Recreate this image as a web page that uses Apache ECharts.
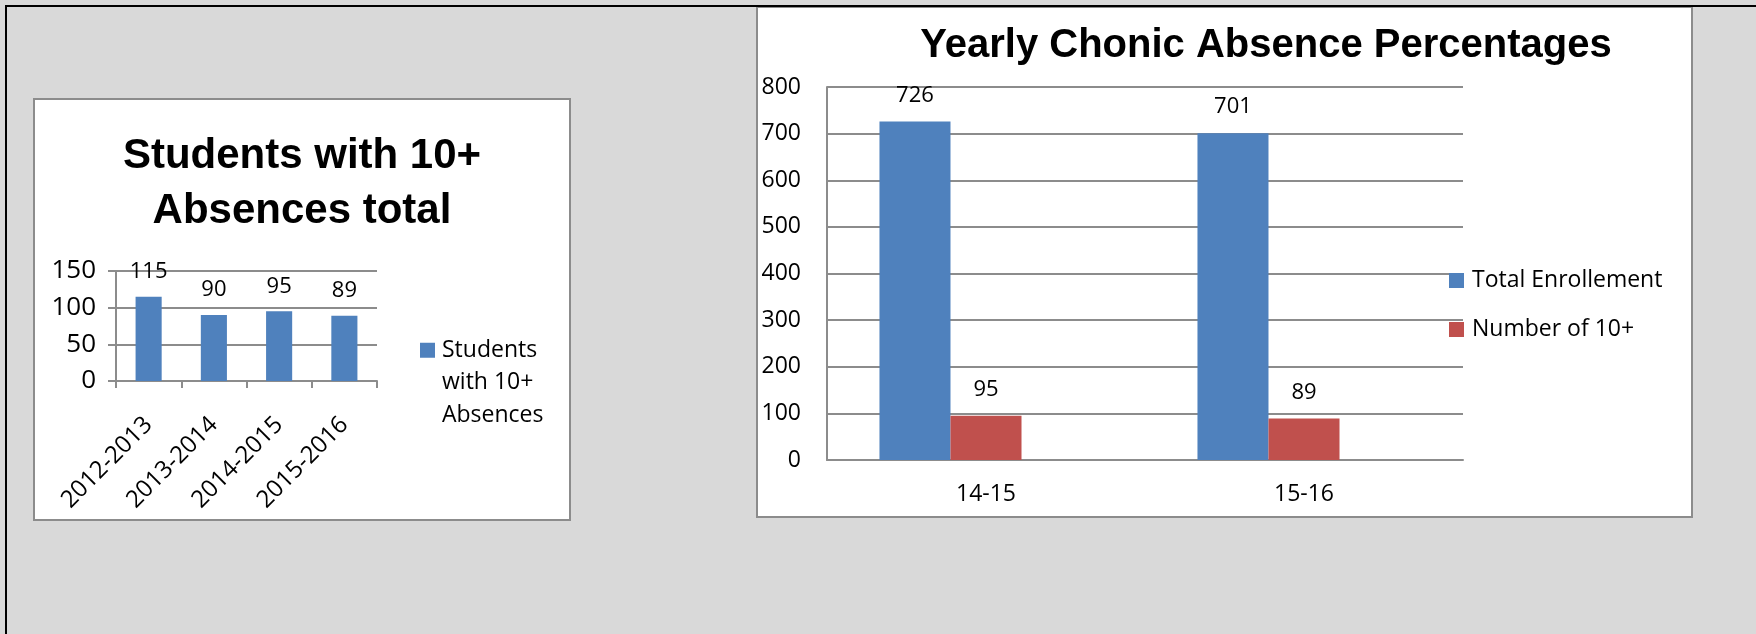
<!DOCTYPE html>
<html>
<head>
<meta charset="utf-8">
<script src="https://cdn.jsdelivr.net/npm/echarts@6/dist/echarts.min.js"></script>
<style>
  html, body { margin: 0; padding: 0; background: #d9d9d9; }
  #chart { width: 1756px; height: 634px; }
</style>
</head>
<body>
<div id="chart"></div>
<script>
// ---- Data (left chart) ----
const leftTitle = 'Students with 10+\nAbsences total';
const leftYears = ['2012-2013', '2013-2014', '2014-2015', '2015-2016'];
const leftSeriesName = 'Students with 10+ Absences';
const leftValues = [115, 90, 95, 89];
const leftYMin = 0, leftYMax = 150, leftYStep = 50;

// ---- Data (right chart) ----
const rightTitle = 'Yearly Chonic Absence Percentages';
const rightYears = ['14-15', '15-16'];
const totalEnrollment = [726, 701];
const numberOf10Plus = [95, 89];
const rightYMin = 0, rightYMax = 800, rightYStep = 100;

const FONT = "'Open Sans', 'Liberation Sans', sans-serif";
const TITLE_FONT = "'Liberation Sans', Arial, sans-serif";
const BLUE = '#4F81BD', RED = '#C0504D', GRID = '#8c8c8c';

const chart = echarts.init(document.getElementById('chart'), null, { renderer: 'canvas' });

const option = {
  backgroundColor: '#d9d9d9',
  animation: false,
  graphic: [
    { type: 'rect', z: -10, shape: { x: 34, y: 99, width: 536, height: 421 },
      style: { fill: '#ffffff', stroke: GRID, lineWidth: 2 } },
    { type: 'rect', z: -10, shape: { x: 757, y: 7, width: 935, height: 510 },
      style: { fill: '#ffffff', stroke: GRID, lineWidth: 2 } },
    { type: 'line', z: 100, shape: { x1: 5, y1: 6, x2: 1756, y2: 6 },
      style: { stroke: '#000', lineWidth: 2 } },
    { type: 'line', z: 100, shape: { x1: 6, y1: 5, x2: 6, y2: 634 },
      style: { stroke: '#000', lineWidth: 2 } }
  ],
  title: [
    { text: leftTitle, left: 302, top: 184, textAlign: 'center', textVerticalAlign: 'middle', padding: 0,
      textStyle: { fontFamily: TITLE_FONT, fontWeight: 'bold', fontSize: 42, lineHeight: 55, color: '#000' } },
    { text: rightTitle, left: 1266, top: 46, textAlign: 'center', textVerticalAlign: 'middle', padding: 0,
      textStyle: { fontFamily: TITLE_FONT, fontWeight: 'bold', fontSize: 40, color: '#000' } }
  ],
  legend: [
    { data: [leftSeriesName], orient: 'vertical', left: 420, top: 269, padding: 0,
      icon: 'rect', itemWidth: 15, itemHeight: 15, selectedMode: false,
      formatter: () => '\n\nStudents\nwith 10+\nAbsences',
      textStyle: { fontFamily: FONT, fontSize: 23, lineHeight: 32.5, color: '#000', padding: [0, 0, 0, 2] } },
    { data: ['Total Enrollement', 'Number of 10+'], orient: 'vertical', left: 1449, top: 269, padding: 0,
      icon: 'rect', itemWidth: 15, itemHeight: 15, itemGap: 26, selectedMode: false,
      textStyle: { fontFamily: FONT, fontSize: 23, lineHeight: 15, color: '#000', padding: [0, 0, 0, 3] } }
  ],
  grid: [
    { left: 116, top: 271, width: 261, height: 110, containLabel: false, outerBoundsMode: 'none' },
    { left: 827, top: 87, width: 636, height: 373, containLabel: false, outerBoundsMode: 'none' }
  ],
  xAxis: [
    { type: 'category', gridIndex: 0, data: leftYears,
      axisLine: { show: true, lineStyle: { color: GRID, width: 2 } },
      axisTick: { show: true, length: 7, alignWithLabel: false, lineStyle: { color: GRID, width: 2 } },
      axisLabel: { rotate: 45, fontFamily: FONT, fontSize: 24, color: '#000', margin: 40, interval: 0 },
      splitLine: { show: false } },
    { type: 'category', gridIndex: 1, data: rightYears,
      axisLine: { show: true, lineStyle: { color: GRID, width: 2 } },
      axisTick: { show: false },
      axisLabel: { fontFamily: FONT, fontSize: 23, lineHeight: 23, color: '#000', margin: 23 },
      splitLine: { show: false } }
  ],
  yAxis: [
    { type: 'value', gridIndex: 0, min: leftYMin, max: leftYMax, interval: leftYStep,
      axisLine: { show: true, lineStyle: { color: GRID, width: 2 } },
      axisTick: { show: true, length: 8, lineStyle: { color: GRID, width: 2 } },
      axisLabel: { fontFamily: FONT, fontSize: 26, color: '#000', margin: 20 },
      splitLine: { show: true, lineStyle: { color: GRID, width: 2 } } },
    { type: 'value', gridIndex: 1, min: rightYMin, max: rightYMax, interval: rightYStep,
      axisLine: { show: true, lineStyle: { color: GRID, width: 2 } },
      axisTick: { show: false },
      axisLabel: { fontFamily: FONT, fontSize: 23, color: '#000', margin: 26 },
      splitLine: { show: true, lineStyle: { color: GRID, width: 2 } } }
  ],
  series: [
    { name: leftSeriesName, type: 'bar', xAxisIndex: 0, yAxisIndex: 0, data: leftValues,
      barCategoryGap: '60%', itemStyle: { color: BLUE },
      label: { show: true, position: 'top', distance: 14, fontFamily: FONT, fontSize: 22, lineHeight: 22, color: '#000' } },
    { name: 'Total Enrollement', type: 'bar', xAxisIndex: 1, yAxisIndex: 1, data: totalEnrollment,
      barGap: '0%', barCategoryGap: '33%', itemStyle: { color: BLUE },
      label: { show: true, position: 'top', distance: 15, fontFamily: FONT, fontSize: 22, lineHeight: 22, color: '#000' } },
    { name: 'Number of 10+', type: 'bar', xAxisIndex: 1, yAxisIndex: 1, data: numberOf10Plus,
      barGap: '0%', barCategoryGap: '33%', itemStyle: { color: RED },
      label: { show: true, position: 'top', distance: 15, fontFamily: FONT, fontSize: 22, lineHeight: 22, color: '#000' } },
    // empty third slot (the source chart reserved an unused series slot, shifting the bars left of centre)
    { name: 'unused', type: 'bar', xAxisIndex: 1, yAxisIndex: 1, data: [null, null],
      barGap: '0%', barCategoryGap: '33%', itemStyle: { color: 'transparent' }, silent: true }
  ]
};
chart.setOption(option);
</script>
</body>
</html>
